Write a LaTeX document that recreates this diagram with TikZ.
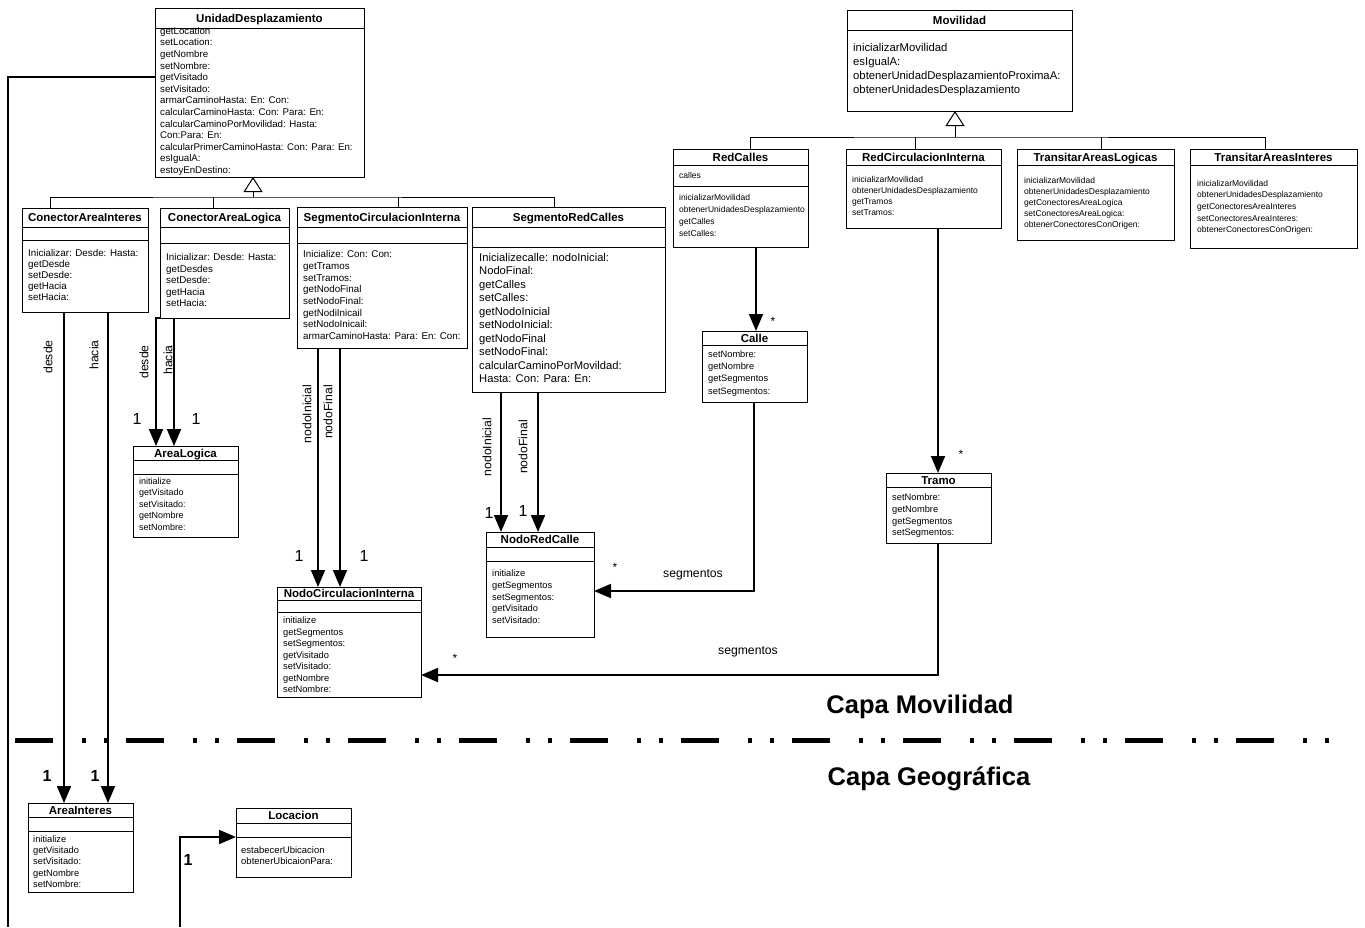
\documentclass[tikz,border=0pt]{standalone}
\usepackage{fontspec}
\setmainfont{Liberation Sans}
\usetikzlibrary{arrows.meta,fit}

% class box: name, x1, y1, x2, y2, header line y, attribute line y (may be empty), title
\newcommand\umlbox[8]{%
  \path (#2,#3) coordinate (#1-nw) (#4,#5) coordinate (#1-se);
  \node[classbox, fit=(#1-nw)(#1-se)] (#1) {};
  \draw[classline] (#1.west |- 0,#6) -- (#1.east |- 0,#6);
  \if\relax\detokenize{#7}\relax\else
    \draw[classline] (#1.west |- 0,#7) -- (#1.east |- 0,#7);
  \fi
  \node[classtitle] (#1-t) at ({(#2+#4)/2}, {(#3+#6)/2+4}) {#8};
}
% operation list: name prefix, x, first baseline y, line spacing, font size, items
\newcommand\umlops[6]{%
  \foreach \op [count=\k from 0] in {#6} {
    \node[optext, font=\fontsize{#5}{#5}\selectfont] (#1-\k) at (#2, {#3+\k*#4}) {\op};
  }
}

\begin{document}
\begin{tikzpicture}[x=1pt, y=-1pt,
  classbox/.style={draw, line width=1pt, inner sep=0pt, outer sep=0pt, fill=white},
  classline/.style={line width=1pt},
  classtitle/.style={anchor=base, inner sep=0pt, font=\bfseries\fontsize{11.5}{12}\selectfont},
  optext/.style={anchor=base west, inner sep=0pt},
  assoc/.style={line width=1.8pt, -{Triangle[length=17pt,width=14pt]}},
  plainlink/.style={line width=1.8pt},
  genline/.style={line width=1pt},
  genarrow/.style={line width=1pt, -{Triangle[open,length=15pt,width=19pt,fill=white]}},
  rolelabel/.style={font=\fontsize{12.2}{13}\selectfont, inner sep=0pt, rotate=90},
  segmlabel/.style={font=\fontsize{12.2}{13}\selectfont, inner sep=0pt},
  mult/.style={font=\fontsize{16}{16}\selectfont, inner sep=0pt},
  multbold/.style={font=\bfseries\fontsize{16}{16}\selectfont, inner sep=0pt},
  manymark/.style={font=\fontsize{12}{12}\selectfont, inner sep=0pt},
  layertitle/.style={font=\bfseries\fontsize{25.5}{26}\selectfont, inner sep=0pt},
  separator/.style={line width=5pt, dash pattern=on 38pt off 29pt on 4pt off 18pt on 4pt off 18pt}
]
\fill[white] (0,0) rectangle (1365,927);
\useasboundingbox (0,0) rectangle (1365,927);

% ---------- classes ----------
\umlbox{UD}{155}{8}{364}{177}{28}{}{UnidadDesplazamiento}
\umlops{UD}{160}{34.3}{11.6}{9.7}{getLocation, setLocation:, getNombre, setNombre:, getVisitado, setVisitado:, armarCaminoHasta: En: Con:, calcularCaminoHasta: Con: Para: En:, calcularCaminoPorMovilidad: Hasta:, Con:Para: En:, calcularPrimerCaminoHasta: Con: Para: En:, esIgualA:, estoyEnDestino:}

\umlbox{Mov}{847}{10}{1072}{111}{30}{}{Movilidad}
\umlops{Mov}{853}{51}{14.3}{11.3}{inicializarMovilidad, esIgualA:, obtenerUnidadDesplazamientoProximaA:, obtenerUnidadesDesplazamiento}

\umlbox{RC}{673}{149}{808}{247}{165}{186}{RedCalles}
\umlops{RCattr}{679}{178.3}{0}{8.5}{calles}
\umlops{RC}{679}{200.3}{12}{8.5}{inicializarMovilidad, obtenerUnidadesDesplazamiento, getCalles, setCalles:}

\umlbox{RCI}{846}{149}{1001}{228}{165}{}{RedCirculacionInterna}
\umlops{RCI}{852}{182.3}{11.2}{8.5}{inicializarMovilidad, obtenerUnidadesDesplazamiento, getTramos, setTramos:}

\umlbox{TAL}{1017}{149}{1174}{240}{165}{}{TransitarAreasLogicas}
\umlops{TAL}{1024}{183.3}{11.1}{8.5}{inicializarMovilidad, obtenerUnidadesDesplazamiento, getConectoresAreaLogica, setConectoresAreaLogica:, obtenerConectoresConOrigen:}

\umlbox{TAI}{1190}{149}{1357}{248}{165}{}{TransitarAreasInteres}
\umlops{TAI}{1197}{186.3}{11.6}{8.5}{inicializarMovilidad, obtenerUnidadesDesplazamiento, getConectoresAreaInteres, setConectoresAreaInteres:, obtenerConectoresConOrigen:}

\umlbox{Calle}{702}{331}{807}{402}{345}{}{Calle}
\umlops{Calle}{708}{357.5}{12.2}{9.3}{setNombre:, getNombre, getSegmentos, setSegmentos:}

\umlbox{Tramo}{886}{473}{991}{543}{487}{}{Tramo}
\umlops{Tramo}{892}{500.5}{11.8}{9.3}{setNombre:, getNombre, getSegmentos, setSegmentos:}

\umlbox{CAI}{22}{208}{148}{312}{227}{240}{ConectorAreaInteres}
\umlops{CAI}{28}{256.6}{11}{9.8}{Inicializar: Desde: Hasta:, getDesde, setDesde:, getHacia, setHacia:}

\umlbox{CAL}{160}{208}{289}{318}{227}{243}{ConectorAreaLogica}
\umlops{CAL}{166}{260.6}{11.5}{9.8}{Inicializar: Desde: Hasta:, getDesdes, setDesde:, getHacia, setHacia:}

\umlbox{SCI}{297}{207}{467}{348}{227}{243}{SegmentoCirculacionInterna}
\umlops{SCI}{303}{257.6}{11.7}{9.8}{Inicialize: Con: Con:, getTramos, setTramos:, getNodoFinal, setNodoFinal:, getNodiInicail, setNodoInicail:, armarCaminoHasta: Para: En: Con:}

\umlbox{SRC}{472}{207}{665}{392}{227}{247}{SegmentoRedCalles}
\umlops{SRC}{479}{261}{13.5}{11.2}{Inicializecalle: nodoInicial:, NodoFinal:, getCalles, setCalles:, getNodoInicial, setNodoInicial:, getNodoFinal, setNodoFinal:, calcularCaminoPorMovildad:, Hasta: Con: Para: En:}

\umlbox{AL}{133}{446}{238}{537}{460}{474}{AreaLogica}
\umlops{AL}{139}{484.4}{11.5}{9}{initialize, getVisitado, setVisitado:, getNombre, setNombre:}

\umlbox{NCI}{277}{587}{421}{697}{600}{612}{NodoCirculacionInterna}
\umlops{NCI}{283}{623.5}{11.5}{9.3}{initialize, getSegmentos, setSegmentos:, getVisitado, setVisitado:, getNombre, setNombre:}

\umlbox{NRC}{486}{532}{594}{637}{547}{561}{NodoRedCalle}
\umlops{NRC}{492}{576.5}{11.8}{9.3}{initialize, getSegmentos, setSegmentos:, getVisitado, setVisitado:}

\umlbox{AI}{28}{803}{133}{892}{817}{831}{AreaInteres}
\umlops{AI}{33}{842.4}{11.2}{9.3}{initialize, getVisitado, setVisitado:, getNombre, setNombre:}

\umlbox{Loc}{236}{808}{351}{877}{823}{837}{Locacion}
\umlops{Loc}{241}{853.5}{11.2}{9.5}{estabecerUbicacion, obtenerUbicaionPara:}

% ---------- generalizations ----------
\coordinate (udbus) at (253,197);
\draw[genline] (CAI.north -| 50,0) |- (udbus) -| (SRC.north -| 554,0);
\draw[genline] (CAL.north -| 213,0) -- (udbus -| 213,0);
\draw[genline] (SCI.north -| 398,0) -- (udbus -| 398,0);
\draw[genarrow] (udbus) -- (UD.south -| 253,0);

\coordinate (mobus) at (955,137);
\draw[genline] (RC.north -| 750,0) |- (mobus) -| (TAI.north -| 1265,0);
\draw[genline] (RCI.north -| 915,0) -- (mobus -| 915,0);
\draw[genline] (TAL.north -| 1101,0) -- (mobus -| 1101,0);
\draw[genarrow] (mobus) -- (Mov.south -| 955,0);

% ---------- associations ----------
\draw[assoc] (CAI.south -| 64,0) -- (AI.north -| 64,0);
\draw[assoc] (CAI.south -| 108,0) -- (AI.north -| 108,0);
\draw[assoc] (CAL.south west) -| (AL.north -| 156,0);
\draw[assoc] (CAL.south -| 174,0) -- (AL.north -| 174,0);
\draw[assoc] (SCI.south -| 318,0) -- (NCI.north -| 318,0);
\draw[assoc] (SCI.south -| 340,0) -- (NCI.north -| 340,0);
\draw[assoc] (SRC.south -| 501,0) -- (NRC.north -| 501,0);
\draw[assoc] (SRC.south -| 538,0) -- (NRC.north -| 538,0);
\draw[assoc] (RC.south -| 756,0) -- (Calle.north -| 756,0);
\draw[assoc] (RCI.south -| 938,0) -- (Tramo.north -| 938,0);
\draw[assoc] (Calle.south -| 754,0) |- (NRC.east |- 0,591);
\draw[assoc] (Tramo.south -| 938,0) |- (NCI.east |- 0,675);

\coordinate (udend) at (8,927);
\draw[plainlink] (UD.west |- 0,77) -| (udend);
\coordinate (locend) at (180,927);
\draw[assoc] (locend) |- (Loc.west |- 0,837);

% ---------- role names and multiplicities ----------
\node[rolelabel] (r1) at (48,357) {desde};
\node[rolelabel] (r2) at (94,355) {hacia};
\node[rolelabel] (r3) at (144,362) {desde};
\node[rolelabel] (r4) at (168,360) {hacia};
\node[rolelabel] (r5) at (307,414) {nodoInicial};
\node[rolelabel] (r6) at (328,412) {nodoFinal};
\node[rolelabel] (r7) at (487,447) {nodoInicial};
\node[rolelabel] (r8) at (523,447) {nodoFinal};
\node[segmlabel] (s1) at (693,575) {segmentos};
\node[segmlabel] (s2) at (748,652) {segmentos};

\node[multbold] (m1) at (47,776) {1};
\node[multbold] (m2) at (95,776) {1};
\node[mult] (m3) at (137,419) {1};
\node[mult] (m4) at (196,419) {1};
\node[mult] (m5) at (299,556) {1};
\node[mult] (m6) at (364,556) {1};
\node[mult] (m7) at (489,513) {1};
\node[mult] (m8) at (523,511) {1};
\node[multbold] (m9) at (188,860) {1};

\node[manymark] (k1) at (773,321) {*};
\node[manymark] (k2) at (961,454) {*};
\node[manymark] (k3) at (615,567) {*};
\node[manymark] (k4) at (455,658) {*};

% ---------- layers ----------
\node[layertitle] (capaM) at (920,707) {Capa Movilidad};
\coordinate (sepL) at (15,740);
\coordinate (sepR) at (1340,740);
\draw[separator] (sepL) -- (sepR);
\node[layertitle] (capaG) at (929,779) {Capa Geográfica};
\end{tikzpicture}
\end{document}
